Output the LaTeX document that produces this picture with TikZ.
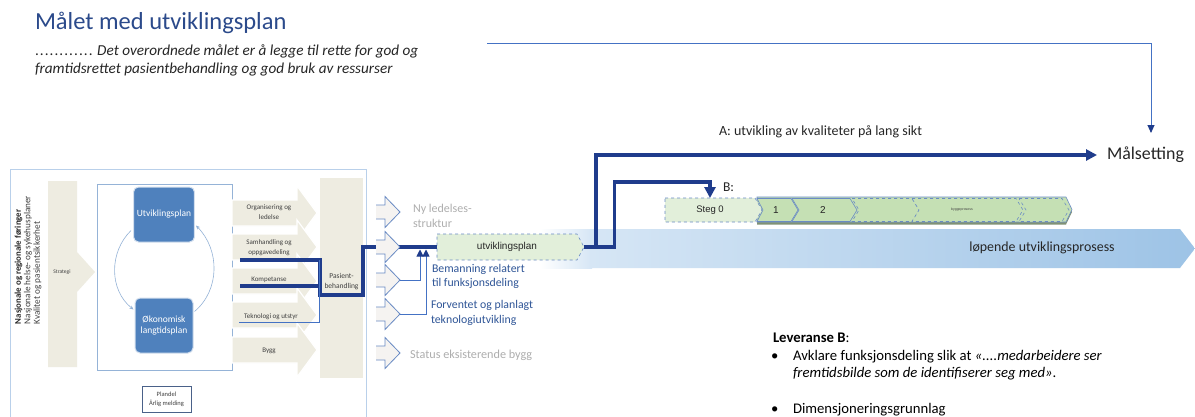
\documentclass[tikz,border=0pt]{standalone}
\usepackage{fontspec}
\setmainfont{Carlito}
\newfontfamily\arialf{Liberation Sans}
\usetikzlibrary{arrows.meta,calc}

\definecolor{titleblue}{HTML}{2B4A8B}
\definecolor{dkblue}{HTML}{1F3C8C}
\definecolor{midblue}{HTML}{4472C4}
\definecolor{txtblue}{HTML}{2F5597}
\definecolor{beige}{HTML}{EEECE1}
\definecolor{boxblue}{HTML}{4F81BD}
\definecolor{panelline}{HTML}{B9D0EA}
\definecolor{innerline}{HTML}{95B3D7}
\definecolor{lgreen}{HTML}{E2EFDA}
\definecolor{mgreen}{HTML}{C5E0B4}
\definecolor{graytxt}{HTML}{AEAEAE}
\definecolor{chevfill}{HTML}{F5F3F1}
\definecolor{chevline}{HTML}{6A8BC4}
\definecolor{barL}{HTML}{D6E6F5}
\definecolor{barR}{HTML}{9DC3E6}
\definecolor{darktxt}{HTML}{262626}
\definecolor{smalltxt}{HTML}{404040}

\newcommand\mydot{\makebox[4.9pt][l]{.}}

\begin{document}
\begin{tikzpicture}[x=1pt,y=-1pt,
  txt/.style={inner sep=0pt, outer sep=0pt},
  dkline/.style={draw=dkblue, line width=3.6pt, line join=miter},
  thinblue/.style={draw=midblue, line width=0.9pt},
  bigtip/.style={-{Triangle[length=11pt,width=11pt,color=dkblue]}},
  smalltip/.style={-{Triangle[length=7pt,width=7pt,color=dkblue]}},
  beigearrow/.style={fill=beige, draw=white, line width=1.2pt},
  chevshape/.style={draw=chevline, line width=0.8pt},
  stepshape/.style={draw=chevline, line width=0.6pt, fill=mgreen},
]
\useasboundingbox (0,0) rectangle (1195,416);
\fill[white] (0,0) rectangle (1195,416);

% ---------- heading ----------
\node[txt, anchor=base west, font=\fontsize{24.5}{28}\selectfont, text=titleblue] (title) at (35,29.5) {Målet med utviklingsplan};
\node[txt, anchor=base west, font=\fontsize{15.2}{18}\selectfont, text=darktxt] (sub1) at (35,55) {\mydot\mydot\mydot\mydot\mydot\mydot\mydot\mydot\mydot\mydot\mydot\mydot\ \textit{Det overordnede målet er å legge til rette for god og}};
\node[txt, anchor=base west, font=\fontsize{15.2}{18}\selectfont, text=darktxt] (sub2) at (35,73.5) {\textit{framtidsrettet pasientbehandling og god bruk av ressurser}};

% ---------- big process bar ----------
\shade[left color=white, right color=barL] (540,229) rectangle (592,268);
\shade[left color=barL, right color=barR] (590,229) -- (1180,229) -- (1195,248.5) -- (1180,268) -- (590,268) -- cycle;
\node[txt, font=\fontsize{13.9}{16}\selectfont, text=darktxt] (lop) at (1042,248) {løpende utviklingsprosess};

% ---------- left panel ----------
\draw[panelline, line width=1pt] (10,420) -- (10,169) -- (366,169) -- (366,420);
\fill[beige] (48,181) -- (77,181) -- (77,252) -- (95,272) -- (77,292) -- (77,367) -- (48,367) -- cycle;
\node[txt, font=\fontsize{5.5}{6}\selectfont, text=smalltxt] (strat) at (62,272) {Strategi};

\node[txt, rotate=90, anchor=west, font=\bfseries\fontsize{8.8}{10}\selectfont, text=darktxt] (rt1) at (18.5,324) {Nasjonale og regionale føringer};
\node[txt, rotate=90, anchor=west, font=\fontsize{9.2}{10}\selectfont, text=smalltxt] (rt2) at (28,324) {Nasjonale helse- og sykehusplaner};
\node[txt, rotate=90, anchor=west, font=\fontsize{9.2}{10}\selectfont, text=smalltxt] (rt3) at (37.5,324) {Kvalitet og pasientsikkerhet};

\draw[innerline, line width=0.8pt, fill=white] (97,184) rectangle (232,370);

\node[draw=white!75!boxblue, line width=1pt, fill=boxblue, rounded corners=5pt, minimum width=58pt, minimum height=55pt, text=white, font=\fontsize{9.5}{11.5}\selectfont, align=center] (utv) at (164,214.5) {Utviklingsplan};
\node[draw=white!75!boxblue, line width=1pt, fill=boxblue, rounded corners=5pt, minimum width=58pt, minimum height=55pt, text=white, font=\fontsize{9.5}{11.5}\selectfont, align=center] (oko) at (164,325.5) {Økonomisk\\langtidsplan};

\draw[innerline, line width=0.6pt, -{Stealth[length=4pt,width=3.5pt]}] ($(utv.south west)+(-2,-12)$) .. controls (109,252) and (109,290) .. ($(oko.north west)+(-1,12)$);
\draw[innerline, line width=0.6pt, -{Stealth[length=4pt,width=3.5pt]}] ($(oko.north east)+(1,14)$) .. controls (220,290) and (220,250) .. ($(utv.south east)+(1,-17)$);

\foreach \c in {213,247,281,315,350} {
  \draw[beigearrow] (232,\c-13) -- (297,\c-13) -- (297,\c-27) -- (317,\c) -- (297,\c+27) -- (297,\c+13) -- (232,\c+13) -- cycle;
}
\node[txt, align=center, font=\fontsize{7}{9.5}\selectfont, text=smalltxt] (org) at (269,212) {Organisering og\\ledelse};
\node[txt, align=center, font=\fontsize{7}{9.5}\selectfont, text=smalltxt] (sam) at (269,247.5) {Samhandling og\\oppgavedeling};
\node[txt, align=center, font=\fontsize{7}{9.5}\selectfont, text=smalltxt] (kom) at (269,280) {Kompetanse};
\node[txt, align=center, font=\fontsize{7}{9.5}\selectfont, text=smalltxt] (tek) at (271,317) {Teknologi og utstyr};
\node[txt, align=center, font=\fontsize{7}{9.5}\selectfont, text=smalltxt] (byg) at (269,351) {Bygg};

\fill[beige] (320,178) rectangle (363,378);
\node[txt, align=center, font=\fontsize{7.5}{10}\selectfont, text=smalltxt] (pb) at (341.5,282) {Pasient-\\behandling};

\node[draw=chevline!70!black, line width=1pt, fill=white, minimum width=49pt, minimum height=26pt, align=center, font=\fontsize{6.5}{8.5}\selectfont, text=smalltxt] (plan) at (166.5,399.5) {Plandel\\Årlig melding};

% ---------- utviklingsplan chevron ----------
\draw[dashed, chevline, line width=0.6pt, fill=lgreen] (437,234) -- (577,234) -- (584,247) -- (577,260) -- (437,260) -- cycle;
\node[txt, minimum width=140pt, minimum height=26pt, font=\arialf\fontsize{10}{12}\selectfont, text=darktxt] (up) at (507,247) {utviklingsplan};
\coordinate (upe) at (584,247);

% ---------- thick connectors ----------
\coordinate (s0) at (240,260);
\coordinate (k0) at (240,286);
\coordinate (t0) at (239,322);
\draw[dkline] (s0) -- (320,260) -- (320,295) -- (363,295) |- (up.west);
\draw[dkline] (k0) -- (320,286);
\draw[thinblue] (t0) -- (319,322) -- (319,260);

% ---------- outlined chevrons ----------
\foreach \c [count=\i] in {212,247,280,314,353} {
  \fill[chevfill] (376,\c-7) -- (385,\c-7) -- (385,\c-15.5) -- (400,\c) -- (385,\c+15.5) -- (385,\c+7) -- (376,\c+7) -- cycle;
  \draw[chevshape] (376,\c-7) -- (385,\c-7) -- (385,\c-15.5) -- (400,\c) -- (385,\c+15.5) -- (385,\c+7) -- (376,\c+7);
  \coordinate (ch\i) at (400,\c);
}
\draw[dkline] (ch2) -- (up.west);

\node[txt, anchor=west, align=left, font=\fontsize{12}{15}\selectfont, text=graytxt] (nyl) at (413,215.5) {Ny ledelses-\\struktur};
\node[txt, anchor=west, align=left, font=\fontsize{11.8}{14.5}\selectfont, text=txtblue] (bem) at (432,276.5) {Bemanning relatert\\til funksjonsdeling};
\node[txt, anchor=west, align=left, font=\fontsize{11.8}{14.5}\selectfont, text=txtblue] (forv) at (431,313) {Forventet og planlagt\\teknologiutvikling};
\node[txt, anchor=west, font=\fontsize{12.2}{14}\selectfont, text=graytxt] (stat) at (410,355) {Status eksisterende bygg};

\coordinate (m1) at (420,249.5);
\coordinate (m2) at (426,249.5);
\draw[thinblue, smalltip] (ch3) -| (m1);
\draw[thinblue, smalltip] (ch4) -| (m2);

% ---------- A / B paths ----------
\node[txt, anchor=west, font=\fontsize{17.9}{20}\selectfont, text=darktxt] (mal) at (1107,155) {Målsetting};
\node[txt, anchor=base west, font=\fontsize{14}{16}\selectfont, text=darktxt] (alab) at (719,135) {A: utvikling av kvaliteter på lang sikt};

\coordinate (tl0) at (487,43);
\coordinate (malA) at (1151,133);
\draw[midblue, line width=0.9pt, -{Triangle[length=8pt,width=7pt,color=dkblue]}] (tl0) -| (malA);

% steps
\fill[black!35!mgreen] (757,199.5) -- (1066,199.5) -- (1072,212) -- (1066,224.5) -- (757,224.5) -- cycle;
\draw[stepshape] (757,197) -- (1066,197) -- (1072,209.5) -- (1066,222) -- (757,222) -- cycle;
\draw[stepshape] (757,198.5) -- (791,198.5) -- (798,210) -- (791,221.5) -- (757,221.5) -- (763,210) -- cycle;
\draw[stepshape] (792,198.5) -- (850,198.5) -- (857,210) -- (850,221.5) -- (792,221.5) -- (799,210) -- cycle;
\draw[stepshape, dashed] (852,198.5) -- (912,198.5) -- (919,210) -- (912,221.5) -- (852,221.5) -- (859,210) -- cycle;
\draw[stepshape, dashed] (912,198.5) -- (1016,198.5) -- (1023,210) -- (1016,221.5) -- (912,221.5) -- (919,210) -- cycle;
\draw[stepshape, dashed] (1019,198.5) -- (1062,198.5) -- (1069,210) -- (1062,221.5) -- (1019,221.5) -- (1026,210) -- cycle;
\node[txt, font=\arialf\fontsize{10}{12}\selectfont, text=darktxt] (st1) at (776,210) {1};
\node[txt, font=\arialf\fontsize{10}{12}\selectfont, text=darktxt] (st2) at (823,210) {2};
\node[txt, font=\arialf\fontsize{3.5}{4}\selectfont, text=smalltxt] (bygg) at (962,210) {byggeprosess};

\draw[dashed, chevline, line width=0.6pt, fill=lgreen] (665,198) -- (755,198) -- (762,210) -- (755,222) -- (665,222) -- cycle;
\node[txt, minimum width=90pt, minimum height=24pt, font=\arialf\fontsize{9.5}{11}\selectfont, text=darktxt] (steg0) at (710,210) {Steg 0};
\node[txt, anchor=base west, font=\fontsize{13.5}{15}\selectfont, text=darktxt] (blab) at (723,191) {B:};

\draw[dkline, bigtip, shorten >=10pt] (upe) -- (596,247) |- (mal.west);
\draw[dkline, bigtip] (596,247) -- (614.5,247) -- (614.5,182) -| (steg0.north);

% ---------- Leveranse B ----------
\node[txt, anchor=base west, font=\fontsize{14.7}{17}\selectfont, text=black] (lev) at (773,342) {\textbf{Leveranse B}:};
\node[txt, anchor=base west, font=\fontsize{14.7}{17}\selectfont, text=black] (bul1) at (771,360) {•};
\node[txt, anchor=base west, font=\fontsize{14.7}{17}\selectfont, text=black] (l1) at (793,360) {Avklare funksjonsdeling slik at \textit{«....medarbeidere ser}};
\node[txt, anchor=base west, font=\fontsize{14.7}{17}\selectfont, text=black] (l2) at (793,377.5) {\textit{fremtidsbilde som de identifiserer seg med»}.};
\node[txt, anchor=base west, font=\fontsize{14.7}{17}\selectfont, text=black] (bul2) at (771,413) {•};
\node[txt, anchor=base west, font=\fontsize{14.7}{17}\selectfont, text=black] (l3) at (793,413) {Dimensjoneringsgrunnlag};
\end{tikzpicture}
\end{document}
